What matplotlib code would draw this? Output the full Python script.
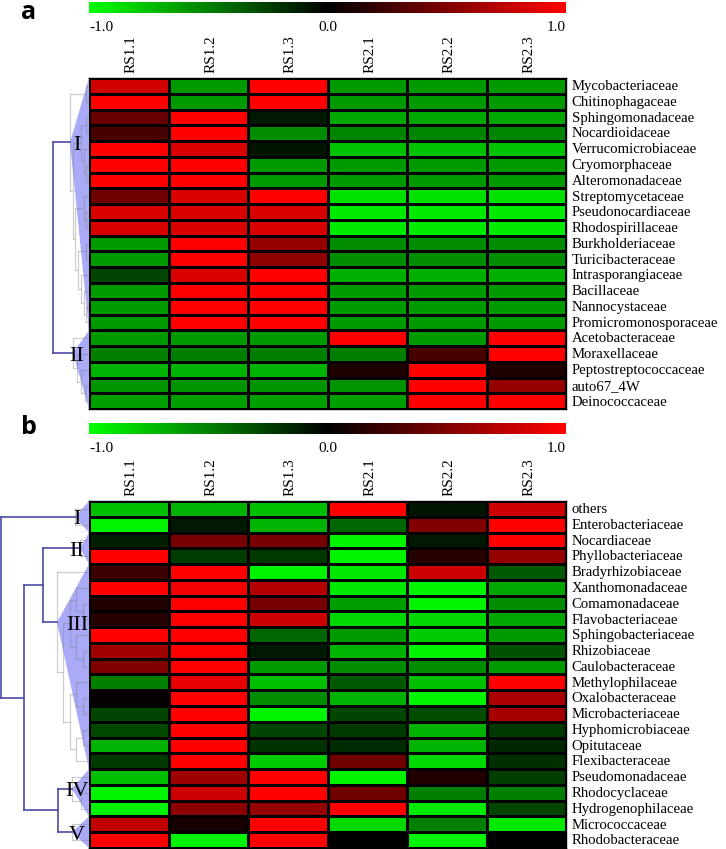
import numpy as np
import matplotlib
matplotlib.use("Agg")
import matplotlib.pyplot as plt
from matplotlib.colors import LinearSegmentedColormap
from matplotlib.patches import Polygon

# ---------------- data ----------------
samples = ["RS1.1", "RS1.2", "RS1.3", "RS2.1", "RS2.2", "RS2.3"]

families_a = ["Mycobacteriaceae", "Chitinophagaceae", "Sphingomonadaceae", "Nocardioidaceae",
              "Verrucomicrobiaceae", "Cryomorphaceae", "Alteromonadaceae", "Streptomycetaceae",
              "Pseudonocardiaceae", "Rhodospirillaceae", "Burkholderiaceae", "Turicibacteraceae",
              "Intrasporangiaceae", "Bacillaceae", "Nannocystaceae", "Promicromonosporaceae",
              "Acetobacteraceae", "Moraxellaceae", "Peptostreptococcaceae", "auto67_4W",
              "Deinococcaceae"]
values_a = [
    [0.82, -0.60, 1.00, -0.60, -0.60, -0.60],
    [1.00, -0.60, 1.00, -0.60, -0.60, -0.60],
    [0.40, 1.00, -0.10, -0.65, -0.65, -0.65],
    [0.28, 1.00, -0.55, -0.52, -0.52, -0.52],
    [1.00, 0.85, -0.08, -0.76, -0.76, -0.76],
    [1.00, 1.00, -0.60, -0.60, -0.60, -0.60],
    [1.00, 1.00, -0.60, -0.60, -0.60, -0.60],
    [0.43, 0.85, 1.00, -0.88, -0.88, -0.88],
    [0.85, 0.85, 0.85, -0.92, -0.92, -0.92],
    [0.85, 0.85, 0.85, -0.92, -0.92, -0.92],
    [-0.60, 1.00, 0.58, -0.55, -0.55, -0.55],
    [-0.60, 1.00, 0.56, -0.55, -0.55, -0.55],
    [-0.27, 0.85, 1.00, -0.68, -0.68, -0.68],
    [-0.60, 1.00, 1.00, -0.60, -0.60, -0.60],
    [-0.60, 1.00, 1.00, -0.60, -0.60, -0.60],
    [-0.60, 1.00, 1.00, -0.60, -0.60, -0.60],
    [-0.60, -0.60, -0.60, 1.00, -0.60, 1.00],
    [-0.50, -0.50, -0.50, -0.50, 0.28, 1.00],
    [-0.70, -0.70, -0.70, 0.12, 1.00, 0.12],
    [-0.58, -0.58, -0.58, -0.58, 1.00, 0.58],
    [-0.62, -0.62, -0.62, -0.62, 1.00, 1.00],
]

families_b = ["others", "Enterobacteriaceae", "Nocardiaceae", "Phyllobacteriaceae",
              "Bradyrhizobiaceae", "Xanthomonadaceae", "Comamonadaceae", "Flavobacteriaceae",
              "Sphingobacteriaceae", "Rhizobiaceae", "Caulobacteraceae", "Methylophilaceae",
              "Oxalobacteraceae", "Microbacteriaceae", "Hyphomicrobiaceae", "Opitutaceae",
              "Flexibacteraceae", "Pseudomonadaceae", "Rhodocyclaceae", "Hydrogenophilaceae",
              "Micrococcaceae", "Rhodobacteraceae"]
values_b = [
    [-0.75, -0.70, -0.75, 1.00, -0.08, 0.80],
    [-0.95, -0.10, -0.70, -0.40, 0.50, 1.00],
    [-0.12, 0.47, 0.47, -0.95, -0.10, 1.00],
    [1.00, -0.24, -0.22, -0.95, 0.15, 0.58],
    [0.23, 1.00, -0.95, -0.90, 0.80, -0.35],
    [1.00, 0.95, 0.70, -0.90, -0.95, -0.65],
    [0.13, 1.00, 0.47, -0.62, -0.95, -0.55],
    [0.15, 1.00, 0.80, -0.85, -0.85, -0.65],
    [1.00, 1.00, -0.40, -0.60, -0.80, -0.60],
    [0.63, 1.00, -0.10, -0.70, -0.95, -0.32],
    [0.50, 1.00, -0.60, -0.55, -0.55, -0.60],
    [-0.50, 0.90, -0.75, -0.35, -0.75, 1.00],
    [0.03, 1.00, -0.55, -0.70, -0.95, 0.67],
    [-0.27, 1.00, -0.95, -0.27, -0.30, 0.65],
    [-0.28, 1.00, -0.27, -0.22, -0.70, -0.22],
    [-0.70, 1.00, -0.20, -0.17, -0.70, -0.15],
    [-0.22, 1.00, -0.80, 0.43, -0.85, -0.18],
    [-0.75, 0.62, 1.00, -0.95, 0.13, -0.25],
    [-0.95, 0.80, 1.00, 0.43, -0.50, -0.50],
    [-0.95, 0.55, 0.58, 1.00, -0.92, -0.27],
    [0.75, 0.10, 1.00, -0.85, -0.50, -0.90],
    [1.00, -0.95, 1.00, 0.00, -0.95, 0.00],
]

cbar_ticks = [-1.0, 0.0, 1.0]
cbar_ticklabels = ["-1.0", "0.0", "1.0"]

# row-cluster structure (leaf trees by row index) and top-level merges
clusters_a = [("I", ((0, 1), (((2, 3), (4, (5, 6))),
                               ((7, (8, 9)), ((10, 11), (12, (13, (14, 15)))))))),
              ("II", (16, (17, (18, (19, 20)))))]
apex_h_a = [19, 16]
top_tree_a = (0, 1)
node_h_a = {(0, 1): 36}

clusters_b = [("I", (0, 1)),
              ("II", (2, 3)),
              ("III", (4, (((5, (6, 7)), (8, (9, 10))), ((11, (12, 13)), ((14, 15), 16))))),
              ("IV", (17, (18, 19))),
              ("V", (20, 21))]
apex_h_b = [14, 9, 32, 17, 17]
top_tree_b = (0, ((1, 2), (3, 4)))
node_h_b = {(0, ((1, 2), (3, 4))): 88, ((1, 2), (3, 4)): 65, (1, 2): 46, (3, 4): 31}

# ---------------- style ----------------
W, H = 726, 849
SERIF = ["Liberation Serif", "DejaVu Serif"]
cmap = LinearSegmentedColormap.from_list("gkr", ["#00ff00", "#000000", "#ff0000"])
BLUE = "#4b4ba6"
LAV = "#aaaaf8"
GRAY = "#808080"

fig = plt.figure(figsize=(W / 100, H / 100), dpi=100)


def px_axes(left, top, right, bottom):
    return fig.add_axes([left / W, 1 - bottom / H, (right - left) / W, (bottom - top) / H])


def leaves(t):
    if isinstance(t, tuple):
        out = []
        for c in t:
            out += leaves(c)
        return out
    return [t]


def depth(t):
    if isinstance(t, tuple):
        return 1 + max(depth(c) for c in t)
    return 0


def draw_inner(ax, t, edge, step):
    """returns (x, y) of node"""
    if not isinstance(t, tuple):
        return edge, t + 0.5
    pts = [draw_inner(ax, c, edge, step) for c in t]
    x = edge - depth(t) * step
    ys = [p[1] for p in pts]
    for (cx, cy) in pts:
        ax.plot([x, cx], [cy, cy], color=GRAY, alpha=0.38, lw=0.9, zorder=3,
                solid_capstyle="butt")
    ax.plot([x, x], [min(ys), max(ys)], color=GRAY, alpha=0.38, lw=0.9, zorder=3)
    return x, float(np.mean(ys))


def draw_top(ax, t, apex, node_h, edge):
    if not isinstance(t, tuple):
        return apex[t]
    pts = [draw_top(ax, c, apex, node_h, edge) for c in t]
    x = edge - node_h[t]
    ys = [p[1] for p in pts]
    for (cx, cy) in pts:
        ax.plot([x, cx], [cy, cy], color=BLUE, lw=1.2, zorder=4)
    ax.plot([x, x], [min(ys), max(ys)], color=BLUE, lw=1.2, zorder=4)
    return x, float(np.mean(ys))


def panel(letter, letter_base, fam, vals, clusters, apex_h, top_tree, node_h, cb_top, hm_top):
    vals = np.array(vals)
    nrow, ncol = vals.shape
    row_h = 15.77
    hm_bottom = hm_top + nrow * row_h
    L, R = 89, 566

    # colour bar
    cax = px_axes(L, cb_top, R, cb_top + 11)
    grad = np.linspace(-1, 1, 512)[None, :]
    cax.imshow(grad, aspect="auto", cmap=cmap, vmin=-1, vmax=1, extent=[-1, 1, 0, 1])
    cax.set_xlim(-1, 1)
    cax.set_ylim(0, 1)
    cax.axis("off")
    for v, lab in zip(cbar_ticks, cbar_ticklabels):
        ha = "left" if v == cbar_ticks[0] else ("right" if v == cbar_ticks[-1] else "center")
        cax.text(v, -1.3, lab, ha=ha, va="center", fontsize=11, family=SERIF,
                 clip_on=False)

    # heatmap
    ax = px_axes(L, hm_top, R, hm_bottom)
    ax.pcolormesh(vals, cmap=cmap, vmin=-1, vmax=1, edgecolors="black", linewidth=0.9)
    ax.set_xlim(0, ncol)
    ax.set_ylim(nrow, 0)
    ax.set_xticks([])
    ax.set_yticks([])
    for s in ax.spines.values():
        s.set_linewidth(1.0)
    for j, s in enumerate(samples):
        ax.text(j + 0.53, -0.32, s, rotation=90, ha="center", va="bottom",
                fontsize=11, family=SERIF, clip_on=False)
    for i, f in enumerate(fam):
        ax.text(ncol + 0.07, i + 0.55, f, ha="left", va="center",
                fontsize=10.6, family=SERIF, clip_on=False)

    # dendrogram
    dax = px_axes(0, hm_top, L, hm_bottom)
    dax.set_xlim(0, L)
    dax.set_ylim(nrow, 0)
    dax.axis("off")
    apex = []
    for (name, tree), h in zip(clusters, apex_h):
        step = h / depth(tree)
        x, y = draw_inner(dax, tree, L, step)
        lv = leaves(tree)
        dax.add_patch(Polygon([[x, y], [L, min(lv)], [L, max(lv) + 1]], closed=True,
                              facecolor=LAV, edgecolor="none", zorder=2))
        apex.append((x, y))
        dax.text(77, y + 0.2, name, ha="center", va="center", fontsize=16,
                 family=SERIF, zorder=5)
    draw_top(dax, top_tree, apex, node_h, L)

    fig.text(29 / W, 1 - letter_base / H, letter, ha="center", va="baseline",
             fontsize=18, fontweight="bold", family=["Open Sans", "DejaVu Sans"])


panel("a", 19, families_a, values_a, clusters_a, apex_h_a, top_tree_a, node_h_a, 2, 78)
panel("b", 434, families_b, values_b, clusters_b, apex_h_b, top_tree_b, node_h_b, 423, 501)

fig.savefig("out.png", dpi=100)
